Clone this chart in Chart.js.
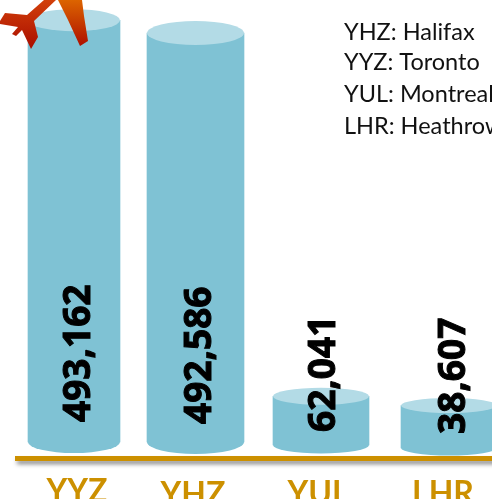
<!DOCTYPE html>
<html>
<head>
<meta charset="utf-8">
<style>
html, body { margin: 0; padding: 0; width: 492px; height: 499px; overflow: hidden; background: #fff; }
canvas { display: block; }
</style>
<script src="https://cdn.jsdelivr.net/npm/chart.js@4"></script>
</head>
<body>
<canvas id="myChart" width="530" height="530"></canvas>
<script>
const categories = ['YYZ', 'YHZ', 'YUL', 'LHR'];
const valueLabels = ['493,162', '492,586', '62,041', '38,607'];
// the picture's cylinders are not to scale with their labels, so these are read off the drawing
const drawnBase = [0, 0, -3600, -7200];
const drawnTop = [508000, 492586, 55000, 44000];
const airportNotes = ['YHZ: Halifax', 'YYZ: Toronto', 'YUL: Montreal', 'LHR: Heathrow'];

const BAR_COLOR = '#7FC2D4';
const TOP_COLOR = '#B3DBE6';
const GOLD = '#CC9000';

// small layout fixes, the original spacing is uneven
const barNudge = [-5, -7.5, -6, -2];
const barWidths = [92, 97, 96, 96];
const capHeights = [11, 12, 8.5, 7.5];
const tickNudgeX = [-2, -10, -9, -8];
const tickNudgeY = [0, 3, 2, 2];
const labelX = [79, 200, 324, 454];
const labelBottom = [422, 424, 432, 434];
const noteY = [32, 62, 94, 126];

function ellipse(ctx, x, y, rx, ry, color) {
    ctx.fillStyle = color;
    ctx.beginPath();
    ctx.ellipse(x, y, rx, ry, 0, 0, Math.PI * 2);
    ctx.fill();
}

function polygon(ctx, points, fill) {
    ctx.fillStyle = fill;
    ctx.beginPath();
    points.forEach(([x, y], i) => (i ? ctx.lineTo(x, y) : ctx.moveTo(x, y)));
    ctx.closePath();
    ctx.fill();
}

const cylinderPlugin = {
    id: 'cylinders',
    beforeDraw(chart) {
        const { ctx, scales: { x } } = chart;
        // shadow under the gold axis line
        ctx.save();
        ctx.shadowColor = 'rgba(0,0,0,0.5)';
        ctx.shadowBlur = 4;
        ctx.shadowOffsetY = 3;
        ctx.fillStyle = GOLD;
        ctx.fillRect(17, 457, 520, 4);
        ctx.restore();

        x.getLabelItems().forEach((item, i) => {
            const t = item.options.translation;
            item.baseY = item.baseY ?? t[1];
            t[0] = x.getPixelForTick(i) + tickNudgeX[i];
            t[1] = item.baseY + tickNudgeY[i];
        });
    },
    beforeDatasetsDraw(chart) {
        const { ctx } = chart;
        chart.getDatasetMeta(0).data.forEach((bar, i) => {
            bar.x = chart.scales.x.getPixelForTick(i) + barNudge[i];
            bar.width = barWidths[i];
            ellipse(ctx, bar.x, bar.base, barWidths[i] / 2, capHeights[i], BAR_COLOR);
        });
    },
    afterDatasetsDraw(chart) {
        const { ctx } = chart;
        chart.getDatasetMeta(0).data.forEach((bar, i) => {
            ellipse(ctx, bar.x, bar.y, barWidths[i] / 2, capHeights[i], TOP_COLOR);
        });

        // value labels, rotated
        ctx.save();
        ctx.fillStyle = '#000';
        ctx.strokeStyle = '#000';
        ctx.lineWidth = 1;
        ctx.font = 'bold 37px "Open Sans"';
        ctx.textAlign = 'left';
        ctx.textBaseline = 'middle';
        valueLabels.forEach((text, i) => {
            ctx.save();
            ctx.translate(labelX[i], labelBottom[i]);
            ctx.rotate(-Math.PI / 2);
            ctx.fillText(text, 0, 0);
            ctx.strokeText(text, 0, 0);
            ctx.restore();
        });
        ctx.restore();

        // airport key
        ctx.save();
        ctx.fillStyle = '#111';
        ctx.font = '23.5px Lato';
        ctx.textAlign = 'left';
        ctx.textBaseline = 'middle';
        airportNotes.forEach((text, i) => ctx.fillText(text, 344, noteY[i]));
        ctx.restore();

        // plane clipart on the first cylinder
        const wingGrad = ctx.createLinearGradient(0, 0, 0, 50);
        wingGrad.addColorStop(0, '#D2400A');
        wingGrad.addColorStop(1, '#A80C00');
        const tailGrad = ctx.createLinearGradient(0, 0, 0, 46);
        tailGrad.addColorStop(0, '#DC6400');
        tailGrad.addColorStop(1, '#AE1000');
        polygon(ctx, [[0, 21], [5, 13], [27, 15], [44, 0], [56, 0], [34, 21], [38, 37], [31, 49], [22, 30], [16, 36], [12, 34], [18, 27], [0, 24]], wingGrad);
        polygon(ctx, [[58, 0], [82, 0], [84, 16], [88, 41], [80, 46], [68, 20]], tailGrad);
    }
};

const ctx = document.getElementById('myChart').getContext('2d');

new Chart(ctx, {
    type: 'bar',
    data: {
        labels: categories,
        datasets: [{
            data: drawnTop.map((top, i) => [drawnBase[i], top]),
            backgroundColor: BAR_COLOR,
            borderWidth: 0,
            barThickness: 96,
        }],
    },
    options: {
        responsive: false,
        animation: false,
        layout: { padding: { left: 17, right: 17, top: 0, bottom: 0 } },
        plugins: { legend: { display: false }, tooltip: { enabled: false } },
        scales: {
            x: {
                grid: { display: false, drawTicks: false },
                border: { color: GOLD, width: 5 },
                ticks: {
                    color: GOLD,
                    font: { family: 'Lato', weight: 'bold', size: 32 },
                    padding: 14,
                    maxRotation: 0,
                },
                afterFit(scale) {
                    scale.height = 72;
                },
            },
            y: {
                display: false,
                min: -19270,
                max: 532337,
            },
        },
    },
    plugins: [cylinderPlugin],
});
</script>
</body>
</html>
